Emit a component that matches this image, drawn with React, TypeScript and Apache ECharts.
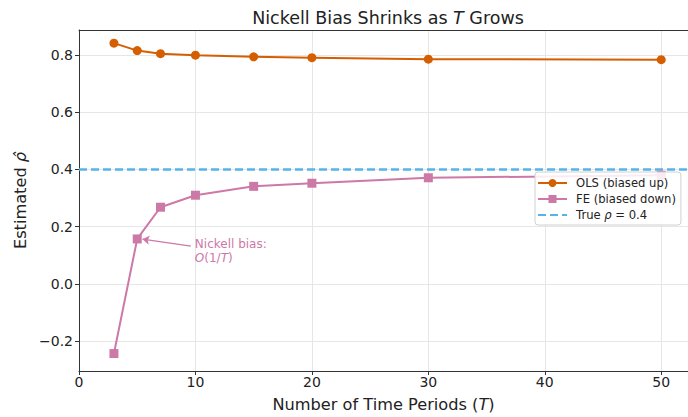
import React, { useEffect, useRef } from "react";
import * as echarts from "echarts";

const periods = [3, 5, 7, 10, 15, 20, 30, 50];
const olsValues = [0.842, 0.816, 0.805, 0.8, 0.794, 0.791, 0.786, 0.784];
const feValues = [-0.244, 0.157, 0.268, 0.31, 0.341, 0.352, 0.371, 0.38];
const trueRho = 0.4;
const xTicks = [0, 10, 20, 30, 40, 50];
const yTicks = [-0.2, 0, 0.2, 0.4, 0.6, 0.8];

const FONT = "DejaVu Sans";

export default function App() {
  const ref = useRef<HTMLDivElement>(null);
  useEffect(() => {
    if (!ref.current) return;
    const chart = echarts.init(ref.current, null, { renderer: "svg" });
    const xMin = 0;
    const xMax = 52.3;
    chart.setOption({
      animation: false,
      backgroundColor: "#fff",
      title: {
        text: "Nickell Bias Shrinks as {i|T} Grows",
        left: 383,
        textAlign: "center",
        top: 4,
        textStyle: {
          fontFamily: FONT,
          fontSize: 17.5,
          fontWeight: "normal",
          color: "#222",
          rich: { i: { fontFamily: FONT, fontSize: 17.5, fontStyle: "italic", color: "#222" } },
        },
      },
      grid: { left: 79, right: 0, top: 30, bottom: 44 },
      legend: {
        orient: "vertical",
        left: 535,
        top: 172,
        padding: [5, 5, 4, 2],
        itemGap: 4,
        itemWidth: 29,
        itemHeight: 10,
        backgroundColor: "rgba(255,255,255,0.85)",
        borderColor: "#d0d0d0",
        borderWidth: 1,
        borderRadius: 3,
        formatter: (name: string) => (name.indexOf("True") === 0 ? "True {i|ρ} = 0.4" : name),
        textStyle: {
          fontFamily: FONT,
          fontSize: 11.6,
          color: "#222",
          padding: [0, 0, 0, 4],
          rich: { i: { fontFamily: FONT, fontSize: 11.6, fontStyle: "italic", color: "#222" } },
        },
        data: [
          "OLS (biased up)",
          "FE (biased down)",
          { name: "True ρ = 0.4", itemStyle: { opacity: 0 } },
        ],
      },
      xAxis: [
        {
          type: "value",
          min: xMin,
          max: xMax,
          name: "Number of Time Periods ({i|T})",
          nameLocation: "middle",
          nameGap: 25,
          nameTextStyle: {
            fontFamily: FONT,
            fontSize: 16.2,
            color: "#222",
            rich: { i: { fontFamily: FONT, fontSize: 16.2, fontStyle: "italic", color: "#222" } },
          },
          axisLine: { show: true, onZero: false, lineStyle: { color: "#333", width: 1 } },
          axisTick: { show: true, length: 4, customValues: xTicks, lineStyle: { color: "#333" } },
          axisLabel: {
            customValues: xTicks,
            fontFamily: FONT,
            fontSize: 14,
            color: "#222",
            margin: 4,
          },
          splitLine: { show: true, lineStyle: { color: "#e6e6e6", width: 1 } },
        },
        {
          type: "value",
          position: "top",
          min: xMin,
          max: xMax,
          axisLine: { show: true, onZero: false, lineStyle: { color: "#333", width: 1 } },
          axisTick: { show: false },
          axisLabel: { show: false },
          splitLine: { show: false },
        },
      ],
      yAxis: {
        type: "value",
        min: -0.305,
        max: 0.888,
        name: "Estimated {i|ρ̂}",
        nameLocation: "middle",
        nameRotate: 90,
        nameGap: 51,
        nameTextStyle: {
          fontFamily: FONT,
          fontSize: 16.2,
          color: "#222",
          rich: { i: { fontFamily: FONT, fontSize: 16.2, fontStyle: "italic", color: "#222" } },
        },
        axisLine: { show: true, onZero: false, lineStyle: { color: "#333", width: 1 } },
        axisTick: { show: true, length: 4, customValues: yTicks, lineStyle: { color: "#333" } },
        axisLabel: {
          customValues: yTicks,
          fontFamily: FONT,
          fontSize: 14,
          color: "#222",
          margin: 6,
          formatter: (v: number) => (v < 0 ? "\u2212" + Math.abs(v).toFixed(1) : v.toFixed(1)),
        },
        splitLine: { show: true, lineStyle: { color: "#e6e6e6", width: 1 } },
      },
      series: [
        {
          name: "True ρ = 0.4",
          type: "line",
          data: [
            [xMin, trueRho],
            [xMax, trueRho],
          ],
          symbol: "none",
          lineStyle: { color: "#56B4E9", width: 2.5, type: [8, 4] },
          itemStyle: { color: "#56B4E9" },
          z: 1,
        },
        {
          name: "OLS (biased up)",
          type: "line",
          data: periods.map((t, i) => [t, olsValues[i]]),
          symbol: "circle",
          symbolSize: 9,
          lineStyle: { color: "#D55E00", width: 2 },
          itemStyle: { color: "#D55E00" },
          z: 3,
        },
        {
          name: "FE (biased down)",
          type: "line",
          data: periods.map((t, i) => [t, feValues[i]]),
          symbol: "rect",
          symbolSize: 9,
          lineStyle: { color: "#CC79A7", width: 2 },
          itemStyle: { color: "#CC79A7" },
          z: 3,
          markLine: {
            silent: true,
            symbolSize: [7, 7],
            lineStyle: { color: "#CC79A7", width: 1.3, type: "solid" },
            label: { show: false },
            data: [
              [
                { coord: [9.6, 0.132], symbol: "none" },
                { coord: [5.45, 0.156], symbol: "arrow" },
              ],
            ],
          },
          markPoint: {
            silent: true,
            symbol: "circle",
            symbolSize: 0,
            data: [
              {
                coord: [9.95, 0.115],
                label: {
                  show: true,
                  position: "right",
                  distance: 0,
                  align: "left",
                  lineHeight: 14,
                  fontFamily: FONT,
                  fontSize: 12,
                  color: "#CC79A7",
                  formatter: "Nickell bias:\n{i|O}(1/{i|T})",
                  rich: {
                    i: { fontFamily: FONT, fontSize: 12, fontStyle: "italic", color: "#CC79A7", lineHeight: 14 },
                  },
                },
              },
            ],
          },
        },
      ],
    });
    return () => chart.dispose();
  }, []);
  return (
    <div
      ref={ref}
      style={{ position: "fixed", left: 0, top: 0, width: 688, height: 417 }}
    />
  );
}
